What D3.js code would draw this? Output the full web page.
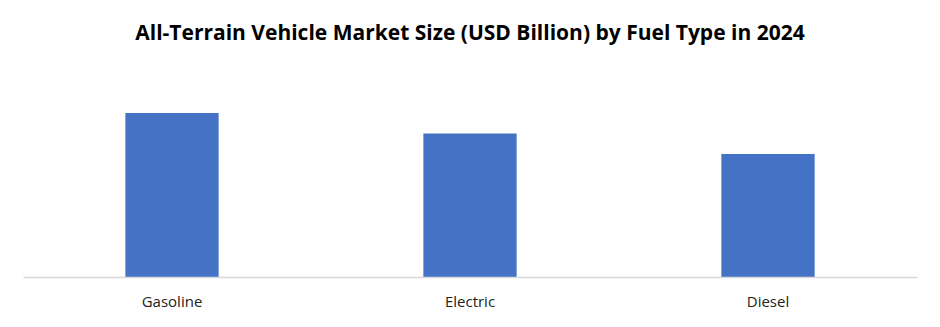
<!DOCTYPE html>
<html>
<head>
<meta charset="utf-8">
<script src="https://cdn.jsdelivr.net/npm/d3@7"></script>
<style>
  body { margin: 0; background: #fff; }
  svg { display: block; }
</style>
</head>
<body>
<div id="chart"></div>
<script>
// chart data
var fuelTypes = ["Gasoline", "Electric", "Diesel"];
var marketSize = [1.6, 1.4, 1.2];
var chartTitle = "All-Terrain Vehicle Market Size (USD Billion) by Fuel Type in 2024";

var W = 940, H = 327;
var margin = {top: 72, right: 23, bottom: 50, left: 23},
    width = W - margin.left - margin.right,
    height = H - margin.top - margin.bottom;

var svg = d3.select("#chart").append("svg")
    .attr("width", W)
    .attr("height", H);

svg.append("text")
    .attr("x", W / 2)
    .attr("y", 40)
    .attr("text-anchor", "middle")
    .style("font-family", "'Open Sans', sans-serif")
    .style("font-weight", "bold")
    .style("font-size", "21px")
    .style("fill", "#000")
    .text(chartTitle);

var g = svg.append("g")
    .attr("transform", "translate(" + margin.left + "," + margin.top + ")");

var x = d3.scaleBand()
    .domain(fuelTypes)
    .range([0, width])
    .paddingInner(0.687)
    .paddingOuter(0.3435);

var y = d3.scaleLinear()
    .domain([0, 2])
    .range([height, 0]);

g.selectAll(".bar")
    .data(fuelTypes)
    .enter().append("rect")
    .attr("class", "bar")
    .attr("x", function(d) { return x(d); })
    .attr("width", x.bandwidth())
    .attr("y", function(d, i) { return y(marketSize[i]); })
    .attr("height", function(d, i) { return height - y(marketSize[i]); })
    .style("fill", "#4472c4");

// x axis
var xAxis = g.append("g")
    .attr("transform", "translate(0," + height + ")")
    .call(d3.axisBottom(x).tickSize(0).tickPadding(19));

xAxis.select(".domain")
    .attr("stroke", "#d9d9d9")
    .attr("stroke-width", 1.5);

xAxis.selectAll("text")
    .style("font-family", "'Open Sans', sans-serif")
    .style("font-size", "15px")
    .style("fill", "#222");
</script>
</body>
</html>
